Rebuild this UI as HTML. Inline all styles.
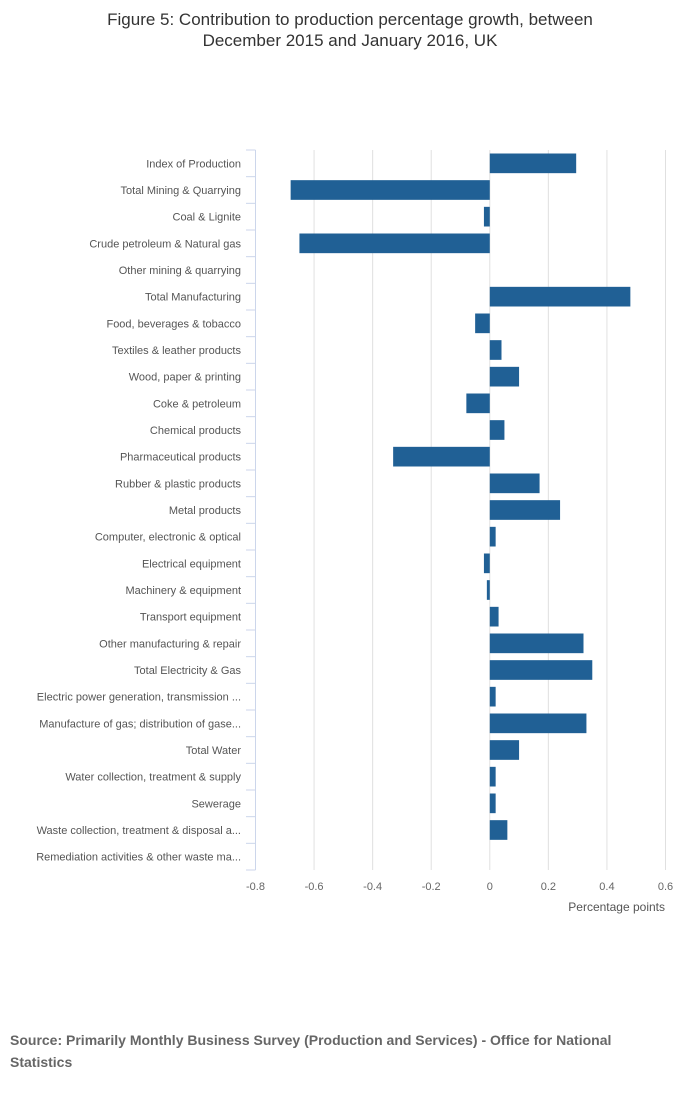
<!DOCTYPE html>
<html><head><meta charset="utf-8"><style>
body{margin:0;background:#fff;font-family:"Liberation Sans",sans-serif;}
svg text{font-family:"Liberation Sans",sans-serif;}
</style></head><body>
<svg id="chart" width="700" height="1092" xmlns="http://www.w3.org/2000/svg">
<text x="350" y="25" text-anchor="middle" font-size="17" fill="#333">Figure 5: Contribution to production percentage growth, between</text>
<text x="350" y="46" text-anchor="middle" font-size="17" fill="#333">December 2015 and January 2016, UK</text>
<g id="grid"></g><g id="bars"></g><g id="axes"></g>
<text x="665" y="911" text-anchor="end" font-size="12" fill="#555">Percentage points</text>
<text x="10" y="1045" font-size="14" font-weight="bold" fill="#666">Source: Primarily Monthly Business Survey (Production and Services) - Office for National</text>
<text x="10" y="1067" font-size="14" font-weight="bold" fill="#666">Statistics</text>
</svg>
<script>
const categories=["Index of Production","Total Mining & Quarrying","Coal & Lignite","Crude petroleum & Natural gas","Other mining & quarrying","Total Manufacturing","Food, beverages & tobacco","Textiles & leather products","Wood, paper & printing","Coke & petroleum","Chemical products","Pharmaceutical products","Rubber & plastic products","Metal products","Computer, electronic & optical","Electrical equipment","Machinery & equipment","Transport equipment","Other manufacturing & repair","Total Electricity & Gas","Electric power generation, transmission ...","Manufacture of gas; distribution of gase...","Total Water","Water collection, treatment & supply","Sewerage","Waste collection, treatment & disposal a...","Remediation activities & other waste ma..."];
const values=[0.295,-0.68,-0.02,-0.65,0,0.48,-0.05,0.04,0.1,-0.08,0.05,-0.33,0.17,0.24,0.02,-0.02,-0.01,0.03,0.32,0.35,0.02,0.33,0.1,0.02,0.02,0.06,0];
const ticks=[-0.8,-0.6,-0.4,-0.2,0,0.2,0.4,0.6];
const ticks2=["-0.8","-0.6","-0.4","-0.2","0","0.2","0.4","0.6"];
const NS="http://www.w3.org/2000/svg";
const L=255.5,R=665.5,T=150,B=870,xmin=-0.8,xmax=0.6;
const x=v=>L+(v-xmin)/(xmax-xmin)*(R-L);
const band=(B-T)/categories.length;
const y=i=>T+i*band;
function mk(tag,attrs,parent){const e=document.createElementNS(NS,tag);for(const k in attrs)e.setAttribute(k,attrs[k]);document.getElementById(parent).appendChild(e);return e;}
ticks.forEach((t,i)=>{
 if(i>0){const g=mk('line',{x1:x(t),x2:x(t),y1:T,y2:B,stroke:'#e0e0e0','stroke-width':1},'grid');
 
 }
 const tx=mk('text',{x:x(t),y:890,'text-anchor':'middle','font-size':11,fill:'#666'},'axes');
 tx.textContent=ticks2[i];
 
 
});
categories.forEach((c,i)=>{
 const v=values[i];
 const r=mk('rect',{x:Math.min(x(0),x(v)),y:y(i)+3.5,width:Math.abs(x(v)-x(0)),height:band-7,fill:'#206095'},'bars');
 
 
 const tx=mk('text',{x:241,y:y(i)+band/2+4,'text-anchor':'end','font-size':11,fill:'#555'},'axes');
 tx.textContent=c;
 
 
});
for(let i=0;i<=categories.length;i++){
 const tk=mk('line',{x1:246,x2:L,y1:y(i),y2:y(i),stroke:'#ccd6eb','stroke-width':1},'axes');
 
 
}
const ax=mk('line',{x1:L,x2:L,y1:T,y2:B,stroke:'#ccd6eb','stroke-width':1},'axes');


</script>
</body></html>
